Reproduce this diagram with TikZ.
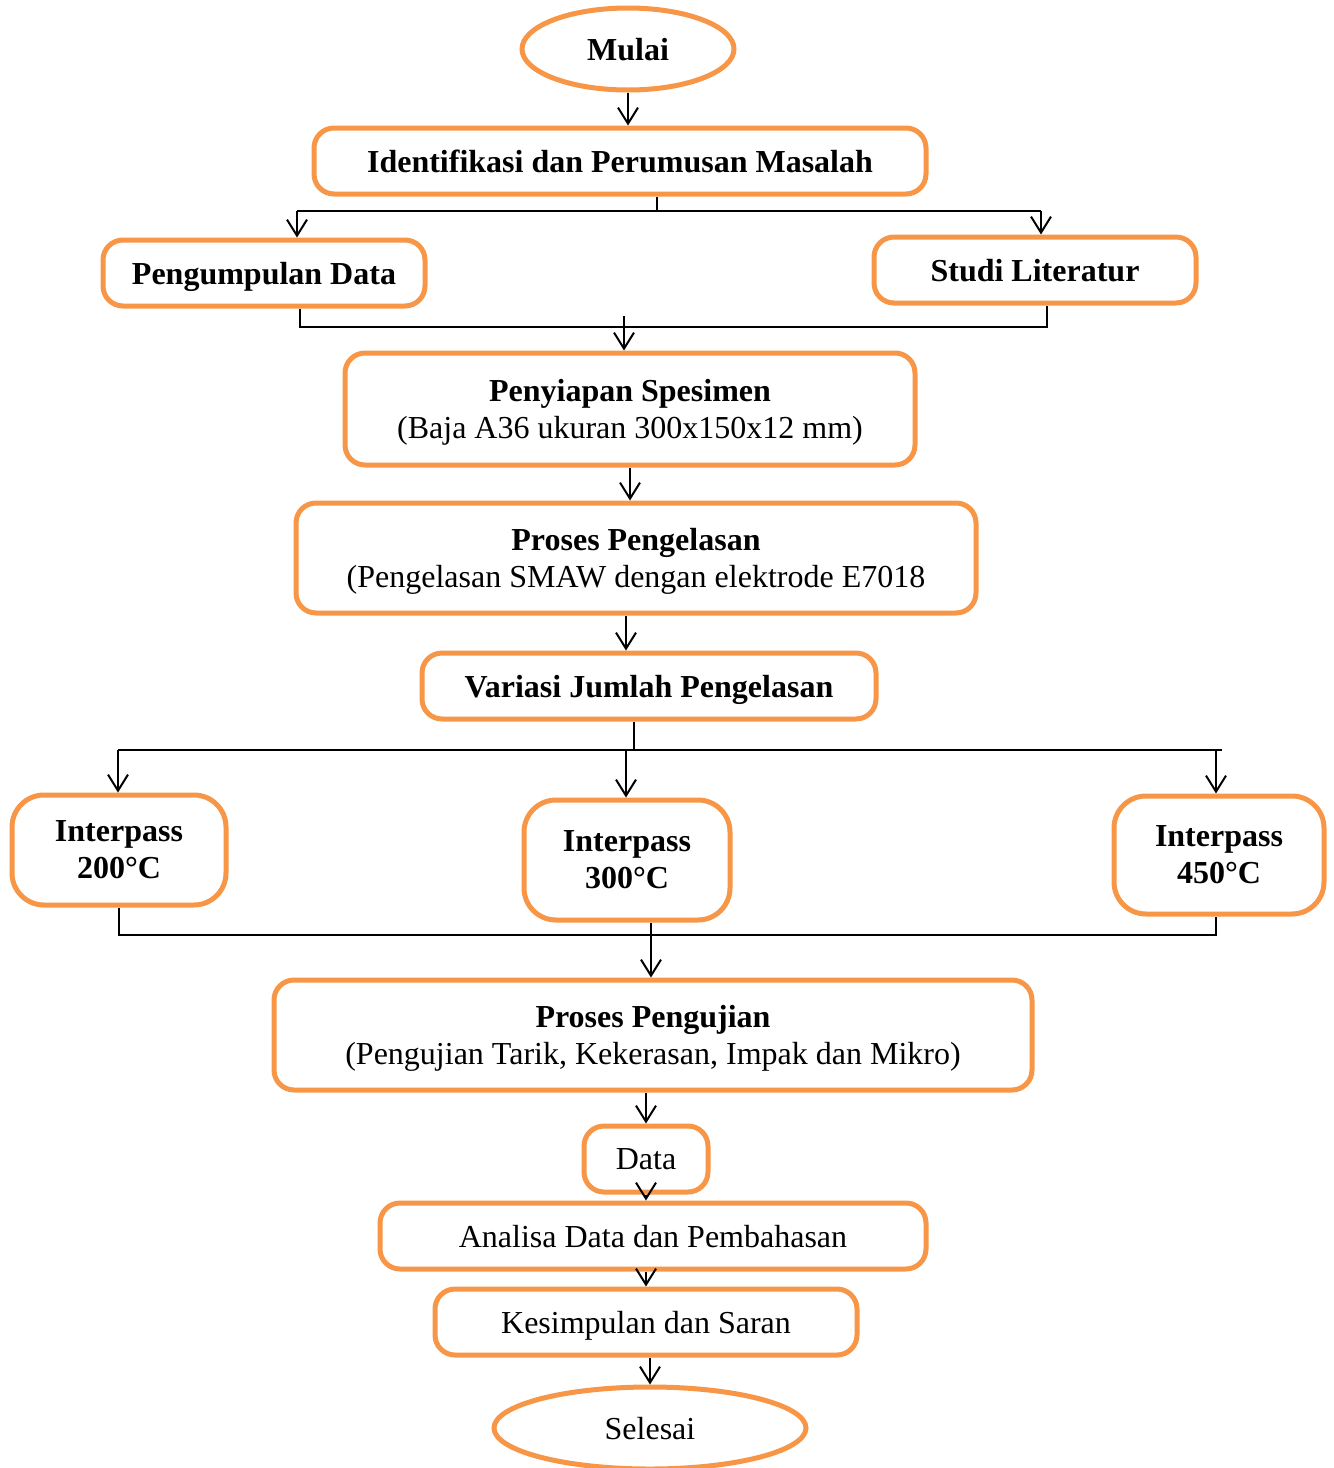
\documentclass[tikz,border=0pt]{standalone}
\usepackage{fontspec}
\setmainfont{Liberation Serif}
\usetikzlibrary{shapes.geometric,arrows.meta}
\definecolor{boxorange}{HTML}{F79646}
\begin{document}
\begin{tikzpicture}[x=0.5pt,y=-0.5pt,
  box/.style={draw=boxorange,line width=2.5pt,rounded corners=10pt,fill=white,align=center,inner sep=0pt,text depth=0pt,font=\fontsize{16}{18.5}\selectfont},
  ibox/.style={box,rounded corners=16pt},
  oval/.style={ellipse,draw=boxorange,line width=2.5pt,fill=white,inner sep=0pt,text depth=0pt,font=\fontsize{16}{18.5}\selectfont},
  conn/.style={line width=1pt,black},
  arr/.style={conn,-{Straight Barb[length=8pt,width=10pt]}}
]
\useasboundingbox (0,0) rectangle (1334,1468);

% nodes
\node[oval,minimum width=106pt,minimum height=41pt] (mulai) at (628,49) {\textbf{Mulai}};
\node[box,minimum width=306pt,minimum height=33pt] (ident) at (620,161) {\textbf{Identifikasi dan Perumusan Masalah}};
\node[box,minimum width=161pt,minimum height=33pt] (kumpul) at (264,273) {\textbf{Pengumpulan Data}};
\node[box,minimum width=161pt,minimum height=33pt] (studi) at (1035,270) {\textbf{Studi Literatur}};
\node[box,minimum width=285pt,minimum height=56pt] (siap) at (630,409) {\textbf{Penyiapan Spesimen}\\(Baja A36 ukuran 300x150x12 mm)};
\node[box,minimum width=340pt,minimum height=55pt] (las) at (636,558) {\textbf{Proses Pengelasan}\\(Pengelasan SMAW dengan elektrode E7018};
\node[box,minimum width=227pt,minimum height=33pt] (variasi) at (649,686) {\textbf{Variasi Jumlah Pengelasan}};
\node[ibox,minimum width=107pt,minimum height=55pt] (ipa) at (119,850) {\textbf{Interpass}\\\textbf{200°C}};
\node[ibox,minimum width=103pt,minimum height=60pt] (ipb) at (627,860) {\textbf{Interpass}\\\textbf{300°C}};
\node[ibox,minimum width=105pt,minimum height=59pt] (ipc) at (1219,855) {\textbf{Interpass}\\\textbf{450°C}};
\node[box,minimum width=379pt,minimum height=55pt] (uji) at (653,1035) {\textbf{Proses Pengujian}\\(Pengujian Tarik, Kekerasan, Impak dan Mikro)};
\node[box,minimum width=62pt,minimum height=33pt] (data) at (646,1159) {Data};
\node[box,minimum width=273pt,minimum height=33pt] (analisa) at (653,1236) {Analisa Data dan Pembahasan};
\node[box,minimum width=211pt,minimum height=33pt] (simpul) at (646,1322) {Kesimpulan dan Saran};
\node[oval,minimum width=156pt,minimum height=41pt] (selesai) at (650,1428) {Selesai};

% junction coordinates
\coordinate (ja) at (657,211);
\coordinate (jl) at (297,211);
\coordinate (jr) at (1041,211);
\coordinate (ml) at (300,327);
\coordinate (mr) at (1047,327);
\coordinate (ma) at (624,316);
\coordinate (va) at (634,750);
\coordinate (bl) at (118,750);
\coordinate (bm) at (626,750);
\coordinate (br) at (1216,750);
\coordinate (bre) at (1222,750);
\coordinate (cl) at (119,935);
\coordinate (cm) at (651,935);
\coordinate (cr) at (1216,935);

% connectors
\draw[arr] (mulai.south) -- (mulai.south |- ident.north);
\draw[conn] (ident.south -| ja) -- (ja);
\draw[conn] (jl) -- (jr);
\draw[arr] (jl) -- (jl |- kumpul.north);
\draw[arr] (jr) -- (jr |- studi.north);
\draw[conn] (kumpul.south -| ml) -- (ml) -- (mr) -- (studi.south -| mr);
\draw[arr] (ma) -- (ma |- siap.north);
\draw[arr] (siap.south) -- (siap.south |- las.north);
\draw[arr] (las.south -| bm) -- (bm |- variasi.north);
\draw[conn] (variasi.south -| va) -- (va);
\draw[conn] (bl) -- (bre);
\draw[arr] (bl) -- (bl |- ipa.north);
\draw[arr] (bm) -- (bm |- ipb.north);
\draw[arr] (br) -- (br |- ipc.north);
\draw[conn] (ipa.south -| cl) -- (cl) -- (cr) -- (ipc.south -| cr);
\draw[conn] (ipb.south -| cm) -- (cm);
\draw[arr] (cm) -- (cm |- uji.north);
\draw[arr] (uji.south -| data) -- (data.north);
\draw[arr] (data.south) -- (data.south |- analisa.north);
\draw[arr] (analisa.south -| data) -- (data |- simpul.north);
\draw[arr] (simpul.south -| selesai) -- (selesai.north);
\end{tikzpicture}
\end{document}
